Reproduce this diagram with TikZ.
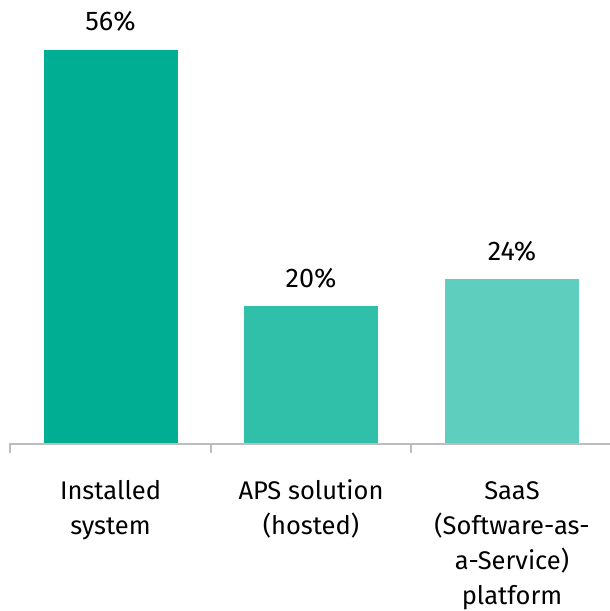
\documentclass[tikz,border=0pt]{standalone}
\usepackage{fontspec}
\setmainfont{Fira Sans}
\definecolor{barA}{HTML}{00AE93}
\definecolor{barB}{HTML}{30BFA9}
\definecolor{barC}{HTML}{5ECFBF}
\definecolor{axisgray}{HTML}{BDBDC0}
\begin{document}
\begin{tikzpicture}[x=1pt,y=-1pt,
  val/.style={anchor=base,font=\fontsize{27}{30}\selectfont,inner sep=0pt},
  cat/.style={anchor=base,align=center,font=\fontsize{25.5}{35}\selectfont,inner sep=0pt},
  axis/.style={draw=axisgray,line width=2pt}]
\useasboundingbox (0,0) rectangle (610,611);
\fill[barA] (43.5,49.5) rectangle (178,444);
\fill[barB] (244,306) rectangle (378,444);
\fill[barC] (445,279) rectangle (579,444);
\coordinate (L) at (10,444);
\coordinate (R) at (610,444);
\coordinate (t1) at (10,453);
\coordinate (t2) at (210.5,453);
\coordinate (t3) at (411,453);
\draw[axis] (L) -- (R);
\draw[axis] (10,443) -- (t1);
\draw[axis] (210.5,443) -- (t2);
\draw[axis] (411,443) -- (t3);
\node[val] (v1) at (110.5,30) {56\%};
\node[val] (v2) at (311,287) {20\%};
\node[val] (v3) at (512,260) {24\%};
\node[cat] (c1) at (110.5,534) {Installed\\system};
\node[cat] (c2) at (311,534) {APS solution\\(hosted)};
\node[cat] (c3) at (512,604) {SaaS\\(Software-as-\\a-Service)\\platform};
\end{tikzpicture}
\end{document}
